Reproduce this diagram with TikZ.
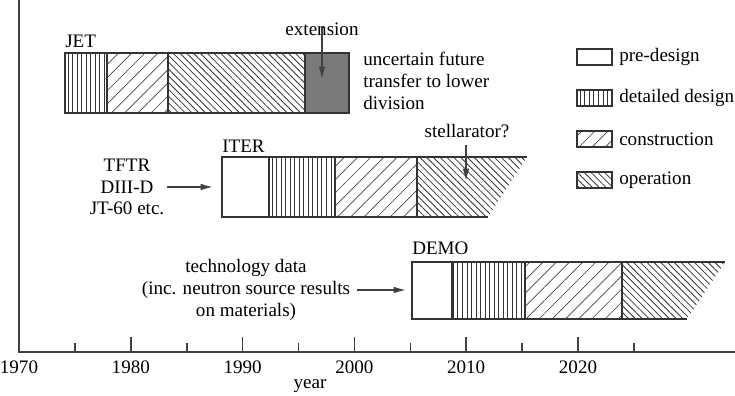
\documentclass[tikz,border=0pt]{standalone}
\usepackage{fontspec}
\setmainfont{Liberation Serif}
\usetikzlibrary{arrows.meta}
\usetikzlibrary{patterns.meta}

\tikzset{
  txt/.style={font=\fontsize{14.3}{16.4}\selectfont, inner sep=0pt},
  outline/.style={draw=black!80, line width=1.5pt},
  detail/.style={pattern={Lines[angle=90,distance=3.4pt,line width=0.6pt]}, pattern color=black!80},
  constr/.style={pattern={Lines[angle=45,distance=7pt,line width=0.5pt]}, pattern color=black!75},
  oper/.style={pattern={Lines[angle=-45,distance=3.6pt,line width=0.6pt]}, pattern color=black!80},
  feed/.style={-{Latex[length=10pt,width=5pt]}, line width=1.6pt, black!75},
}

\begin{document}
\begin{tikzpicture}[x=0.75pt,y=-0.75pt]
  \useasboundingbox (0,0) rectangle (735,396);

  % Define the axis origin and the scale (px per year)
  \def\xorig{19}
  \def\peryear{11.18}
  \def\axisy{352}

  % Draw the axes
  \draw[black!75, line width=1.5pt] (\xorig,0) -- (\xorig,\axisy) -- (735,\axisy);

  % Draw the ticks and the year labels
  \foreach \yr in {1975,1985,...,2025} {
    \draw[black!75, line width=1.2pt] ({\xorig+\peryear*(\yr-1970)},\axisy) -- ++(0,-9);
  }
  \foreach \yr in {1980,1990,...,2020} {
    \draw[black!75, line width=1.2pt] ({\xorig+\peryear*(\yr-1970)},\axisy) -- ++(0,-15);
  }
  \foreach \yr in {1970,1980,...,2020} {
    \node[txt] (lab\yr) at ({\xorig+\peryear*(\yr-1970)},367) {\yr};
  }
  \node[txt] (yearlab) at (310,386) {year};

  % JET
  \fill[detail] (65,53) rectangle (107,113);
  \fill[constr] (107,53) rectangle (168,113);
  \fill[oper] (168,53) rectangle (305,113);
  \fill[black!52] (305,53) rectangle (349,113);
  \draw[outline] (65,53) rectangle (349,113);
  \foreach \xd in {107,168,305} \draw[outline] (\xd,53) -- (\xd,113);
  \node[txt, anchor=base west] (jet) at (65,47) {JET};
  \node[txt, anchor=base] (ext) at (322,35) {extension};
  \coordinate (extend) at (322,80);
  \draw[feed] (ext.south) ++(0,-9) -- (extend);
  \node[txt, anchor=west, align=left] (future) at (363,81)
    {uncertain future\\transfer to lower\\division};

  % ITER
  \fill[detail] (269,157) rectangle (335,217);
  \fill[constr] (335,157) rectangle (417,217);
  \fill[oper] (417,157) -- (527,157) -- (488,217) -- (417,217) -- cycle;
  \draw[outline] (527,157) -- (222,157) -- (222,217) -- (488,217);
  \foreach \xd in {269,335,417} \draw[outline] (\xd,157) -- (\xd,217);
  \node[txt, anchor=base west] (iter) at (222,152) {ITER};
  \node[txt, anchor=base] (stell) at (467,137) {stellarator?};
  \coordinate (stellend) at (466,182);
  \draw[feed] (466,145) -- (stellend);
  \node[txt, align=center] (tftr) at (127,187) {TFTR\\DIII-D\\JT-60 etc.};
  \coordinate (iterin) at (214,187);
  \draw[feed] ([xshift=2pt]tftr.east) -- (iterin);

  % DEMO
  \fill[detail] (452,262) rectangle (525,319);
  \fill[constr] (525,262) rectangle (622,319);
  \fill[oper] (622,262) -- (725,262) -- (687,319) -- (622,319) -- cycle;
  \draw[outline] (725,262) -- (412,262) -- (412,319) -- (687,319);
  \foreach \xd in {452,525,622} \draw[outline] (\xd,262) -- (\xd,319);
  \node[txt, anchor=base west] (demo) at (412,254) {DEMO};
  \node[txt, align=center] (techdata) at (246,290)
    {technology data\\(inc. neutron source results\\on materials)};
  \coordinate (demoin) at (407,290);
  \draw[feed] ([xshift=5pt]techdata.east) -- (demoin);

  % Legend
  \foreach \st/\name/\yy in {{}/pre-design/57, detail/detailed design/98,
                              constr/construction/139, oper/operation/180} {
    \draw[outline, line width=1.2pt, \st] (577,\yy-8) rectangle (612,\yy+8);
    \node[txt, anchor=west] (leg\yy) at (619,\yy) {\name};
  }

\end{tikzpicture}
\end{document}
